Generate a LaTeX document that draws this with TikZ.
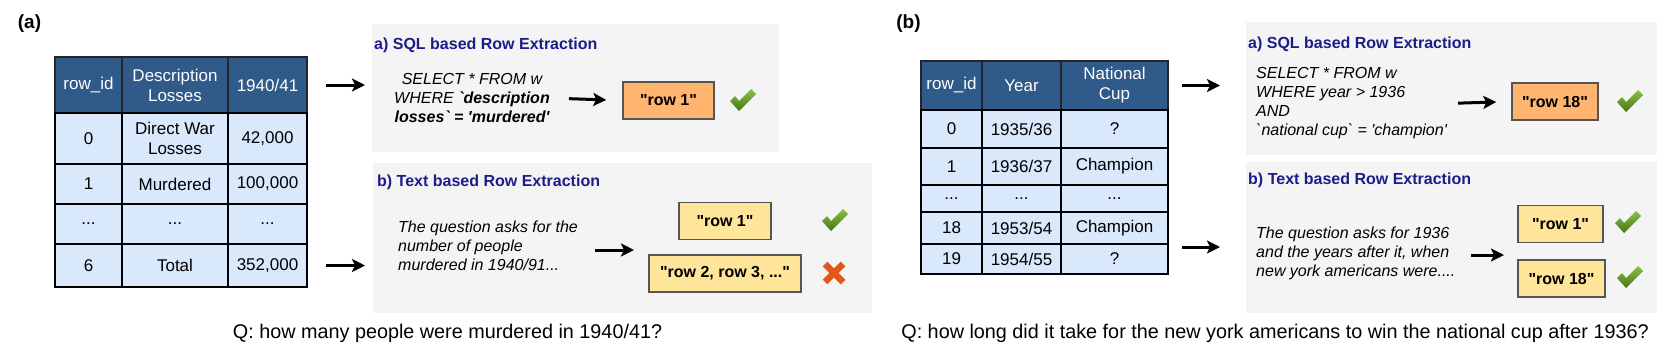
\documentclass[tikz,border=0pt]{standalone}
\usepackage{fontspec}
\setmainfont{Liberation Sans}[Ligatures=TeXOff]
\usetikzlibrary{arrows.meta, positioning}

\definecolor{headblue}{RGB}{47,90,138}
\definecolor{cellblue}{RGB}{218,232,252}
\definecolor{panelgray}{RGB}{244,244,244}
\definecolor{titleblue}{RGB}{28,28,138}
\definecolor{roworange}{RGB}{255,181,112}
\definecolor{rowyellow}{RGB}{255,229,153}
\definecolor{boxline}{RGB}{85,85,85}
\definecolor{tickhi}{RGB}{140,192,70}
\definecolor{ticklo}{RGB}{68,118,22}
\definecolor{crossred}{RGB}{226,88,24}

\tikzset{
    okmark/.pic={\shade[top color=tickhi, bottom color=ticklo]
        (-13,1) -- (-8,-4) -- (-4,1) -- (8,-11) -- (13,-6) -- (-4,11) -- cycle;},
    badmark/.pic={\draw[line width=6.5pt, crossred] (-9,-9) -- (9,9) (-9,9) -- (9,-9);}
}

\begin{document}
\begin{tikzpicture}[x=1pt, y=-1pt, font=\fontsize{16}{19}\selectfont]
    \tikzstyle{cell} = [rectangle, draw=black, line width=2pt, fill=cellblue,
        inner sep=0pt, outer sep=0pt, align=center, font=\fontsize{17}{20}\selectfont]
    \tikzstyle{headcell} = [cell, fill=headblue, text=white, draw=black!85]
    \tikzstyle{panel} = [rectangle, fill=panelgray, inner sep=0pt, anchor=north west]
    \tikzstyle{heading} = [anchor=west, inner sep=0pt, text=titleblue, font=\fontsize{16}{19}\selectfont\bfseries]
    \tikzstyle{query} = [inner sep=0pt, font=\fontsize{16}{19}\selectfont\itshape]
    \tikzstyle{rowbox} = [rectangle, draw=boxline, line width=1.5pt, inner sep=0pt,
        minimum height=37pt, font=\fontsize{16}{19}\selectfont\bfseries]
    \tikzstyle{arrowline} = [draw, -{Stealth[length=13pt, width=13pt, inset=3pt]}, line width=3pt]
    \tikzstyle{question} = [font=\fontsize{19.8}{22}\selectfont]
    \tikzstyle{tag} = [font=\fontsize{19}{22}\selectfont\bfseries]

    \useasboundingbox (0,0) rectangle (1661,354);

    % (a) table
    \node [tag] (labA) at (29.5,23.5) {(a)};
    \node [headcell, minimum width=67pt, minimum height=56pt, anchor=north west] (tA-h1) at (55,57) {row\_id};
    \node [headcell, minimum width=106pt, minimum height=56pt, right=0pt of tA-h1] (tA-h2) {Description\\Losses};
    \node [headcell, minimum width=79pt, minimum height=56pt, right=0pt of tA-h2] (tA-h3) {1940/41};
    \node [cell, minimum width=67pt, minimum height=51pt, below=0pt of tA-h1] (tA-01) {0};
    \node [cell, minimum width=106pt, minimum height=51pt, right=0pt of tA-01] (tA-02) {Direct War\\Losses};
    \node [cell, minimum width=79pt, minimum height=51pt, right=0pt of tA-02] (tA-03) {42,000};
    \node [cell, minimum width=67pt, minimum height=40pt, below=0pt of tA-01] (tA-11) {1};
    \node [cell, minimum width=106pt, minimum height=40pt, right=0pt of tA-11] (tA-12) {Murdered};
    \node [cell, minimum width=79pt, minimum height=40pt, right=0pt of tA-12] (tA-13) {100,000};
    \node [cell, minimum width=67pt, minimum height=40pt, below=0pt of tA-11] (tA-d1) {...};
    \node [cell, minimum width=106pt, minimum height=40pt, right=0pt of tA-d1] (tA-d2) {...};
    \node [cell, minimum width=79pt, minimum height=40pt, right=0pt of tA-d2] (tA-d3) {...};
    \node [cell, minimum width=67pt, minimum height=43pt, below=0pt of tA-d1] (tA-61) {6};
    \node [cell, minimum width=106pt, minimum height=43pt, right=0pt of tA-61] (tA-62) {Total};
    \node [cell, minimum width=79pt, minimum height=43pt, right=0pt of tA-62] (tA-63) {352,000};

    % (a) extraction panels
    \node [panel, minimum width=407pt, minimum height=128pt] (pA1) at (372,24) {};
    \node [panel, minimum width=499pt, minimum height=150pt] (pA2) at (373,163) {};
    \node [heading] (hA1) at (374,45) {a) SQL based Row Extraction};
    \node [heading] (hA2) at (377,182) {b) Text based Row Extraction};
    \node [query, align=center] (sqlA) at (472,98) {SELECT * FROM w\\
        WHERE \textbf{`description}\\ \textbf{losses` = 'murdered'}};
    \node [query, align=left, anchor=west] (txtA) at (398,246) {The question asks for the\\
        number of people\\ murdered in 1940/91...};
    \node [rowbox, fill=roworange, minimum width=91pt] (rA1) at (668.5,100.5) {"row 1"};
    \node [rowbox, fill=rowyellow, minimum width=92pt] (rA2) at (725,221) {"row 1"};
    \node [rowbox, fill=rowyellow, minimum width=152pt] (rA3) at (725,273.5) {"row 2, row 3, ..."};
    \coordinate (pickA) at (634,250);
    \pic at (743,100) {okmark};
    \pic at (835,220) {okmark};
    \pic at (834,273) {badmark};

    \path [arrowline, shorten <=19pt, shorten >=7pt] (tA-h3.east) -- (tA-h3.east -| pA1.west);
    \path [arrowline, shorten <=19pt, shorten >=8pt] (tA-63.east) -- (tA-63.east -| pA2.west);
    \path [arrowline, shorten <=19pt, shorten >=16pt] (sqlA.east) -- (rA1.west);
    \path [arrowline, shorten <=17pt] (txtA.east |- pickA) -- (pickA);

    % (b) table
    \node [tag] (labB) at (908.5,23.5) {(b)};
    \node [headcell, minimum width=61pt, minimum height=49pt, anchor=north west] (tB-h1) at (921,61) {row\_id};
    \node [headcell, minimum width=79pt, minimum height=49pt, right=0pt of tB-h1] (tB-h2) {Year};
    \node [headcell, minimum width=107pt, minimum height=49pt, right=0pt of tB-h2] (tB-h3) {National\\Cup};
    \node [cell, minimum width=61pt, minimum height=38pt, below=0pt of tB-h1] (tB-01) {0};
    \node [cell, minimum width=79pt, minimum height=38pt, right=0pt of tB-01] (tB-02) {1935/36};
    \node [cell, minimum width=107pt, minimum height=38pt, right=0pt of tB-02] (tB-03) {?};
    \node [cell, minimum width=61pt, minimum height=37pt, below=0pt of tB-01] (tB-11) {1};
    \node [cell, minimum width=79pt, minimum height=37pt, right=0pt of tB-11] (tB-12) {1936/37};
    \node [cell, minimum width=107pt, minimum height=37pt, right=0pt of tB-12] (tB-13) {Champion};
    \node [cell, minimum width=61pt, minimum height=27pt, below=0pt of tB-11] (tB-d1) {...};
    \node [cell, minimum width=79pt, minimum height=27pt, right=0pt of tB-d1] (tB-d2) {...};
    \node [cell, minimum width=107pt, minimum height=27pt, right=0pt of tB-d2] (tB-d3) {...};
    \node [cell, minimum width=61pt, minimum height=32pt, below=0pt of tB-d1] (tB-181) {18};
    \node [cell, minimum width=79pt, minimum height=32pt, right=0pt of tB-181] (tB-182) {1953/54};
    \node [cell, minimum width=107pt, minimum height=32pt, right=0pt of tB-182] (tB-183) {Champion};
    \node [cell, minimum width=61pt, minimum height=30pt, below=0pt of tB-181] (tB-191) {19};
    \node [cell, minimum width=79pt, minimum height=30pt, right=0pt of tB-191] (tB-192) {1954/55};
    \node [cell, minimum width=107pt, minimum height=30pt, right=0pt of tB-192] (tB-193) {?};

    % (b) extraction panels
    \node [panel, minimum width=411pt, minimum height=133pt] (pB1) at (1246,22) {};
    \node [panel, minimum width=411pt, minimum height=151pt] (pB2) at (1246,162) {};
    \node [heading] (hB1) at (1248,44) {a) SQL based Row Extraction};
    \node [heading] (hB2) at (1248,180) {b) Text based Row Extraction};
    \node [query, align=left, anchor=west] (sqlB) at (1256,103.5) {SELECT * FROM w\\
        WHERE year > 1936\\ AND\\ `national cup` = 'champion'};
    \node [query, align=left, anchor=west] (txtB) at (1256,253.5) {The question asks for 1936\\
        and the years after it, when\\ new york americans were....};
    \node [rowbox, fill=roworange, minimum width=86pt] (rB1) at (1555,101.5) {"row 18"};
    \node [rowbox, fill=rowyellow, minimum width=85pt] (rB2) at (1560.5,224) {"row 1"};
    \node [rowbox, fill=rowyellow, minimum width=87pt] (rB3) at (1561.5,278.5) {"row 18"};
    \coordinate (inB) at (1182,247);
    \coordinate (pickB) at (1504,255);
    \pic at (1630,101) {okmark};
    \pic at (1628,222) {okmark};
    \pic at (1630,277) {okmark};

    \path [arrowline, shorten <=14pt, shorten >=26pt] (tB-h3.east) -- (tB-h3.east -| pB1.west);
    \path [arrowline, shorten >=26pt] (inB) -- (inB -| pB2.west);
    \path [arrowline, shorten <=11pt, shorten >=15pt] (sqlB.east) -- (rB1.west);
    \path [arrowline, shorten <=15pt] (txtB.east |- pickB) -- (pickB);

    % questions
    \node [question] (qA) at (447.5,333) {Q: how many people were murdered in 1940/41?};
    \node [question] (qB) at (1275,333) {Q: how long did it take for the new york americans to win the national cup after 1936?};
\end{tikzpicture}
\end{document}
